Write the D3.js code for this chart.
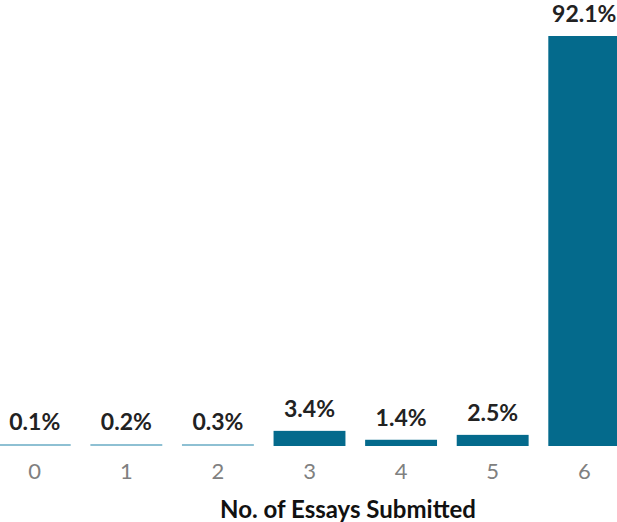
<!DOCTYPE html>
<html>
<head>
<meta charset="utf-8">
<script src="https://cdn.jsdelivr.net/npm/d3@7"></script>
<style>
  html, body { margin: 0; padding: 0; background: #fff; }
  svg { display: block; }
</style>
</head>
<body>
<svg id="chart" width="617" height="522"></svg>
<script>
const categories = ["0", "1", "2", "3", "4", "5", "6"];
const values = [0.1, 0.2, 0.3, 3.4, 1.4, 2.5, 92.1];
const valueLabels = ["0.1%", "0.2%", "0.3%", "3.4%", "1.4%", "2.5%", "92.1%"];
const xTitle = "No. of Essays Submitted";

const svg = d3.select("#chart");
const font = "Lato, 'Open Sans', sans-serif";

const x = d3.scaleBand()
  .domain(categories)
  .range([-11, 630])
  .paddingInner(0.215)
  .paddingOuter(0.107);

const y = d3.scaleLinear()
  .domain([0, 92.1])
  .range([446, 36]);

const dark = "#046a8c";
const light = "#8ec0d3";

svg.selectAll("rect.bar")
  .data(values)
  .join("rect")
  .attr("class", "bar")
  .attr("x", (d, i) => x(categories[i]))
  .attr("width", x.bandwidth())
  .attr("y", d => Math.min(y(d), y(0) - 2))
  .attr("height", d => Math.max(y(0) - y(d), 2))
  .attr("fill", d => (y(0) - y(d) < 2 ? light : dark));

svg.selectAll("text.val")
  .data(values)
  .join("text")
  .attr("class", "val")
  .attr("x", (d, i) => x(categories[i]) + x.bandwidth() / 2)
  .attr("y", d => Math.min(y(d), y(0) - 2) - 14)
  .attr("text-anchor", "middle")
  .attr("font-family", font)
  .attr("font-weight", "bold")
  .attr("font-size", 23)
  .attr("fill", "#222")
  .text((d, i) => valueLabels[i]);

const axis = d3.axisBottom(x).tickSize(0).tickPadding(0);
const g = svg.append("g").attr("transform", "translate(0,460)").call(axis);
g.select(".domain").remove();
g.selectAll("text")
  .attr("dy", "0.71em")
  .attr("y", 3)
  .attr("font-family", font)
  .attr("font-size", 22)
  .attr("fill", "#808080");

svg.append("text")
  .attr("x", 348)
  .attr("y", 518)
  .attr("text-anchor", "middle")
  .attr("font-family", font)
  .attr("font-weight", "bold")
  .attr("font-size", 24)
  .attr("fill", "#111")
  .text(xTitle);
</script>
</body>
</html>
